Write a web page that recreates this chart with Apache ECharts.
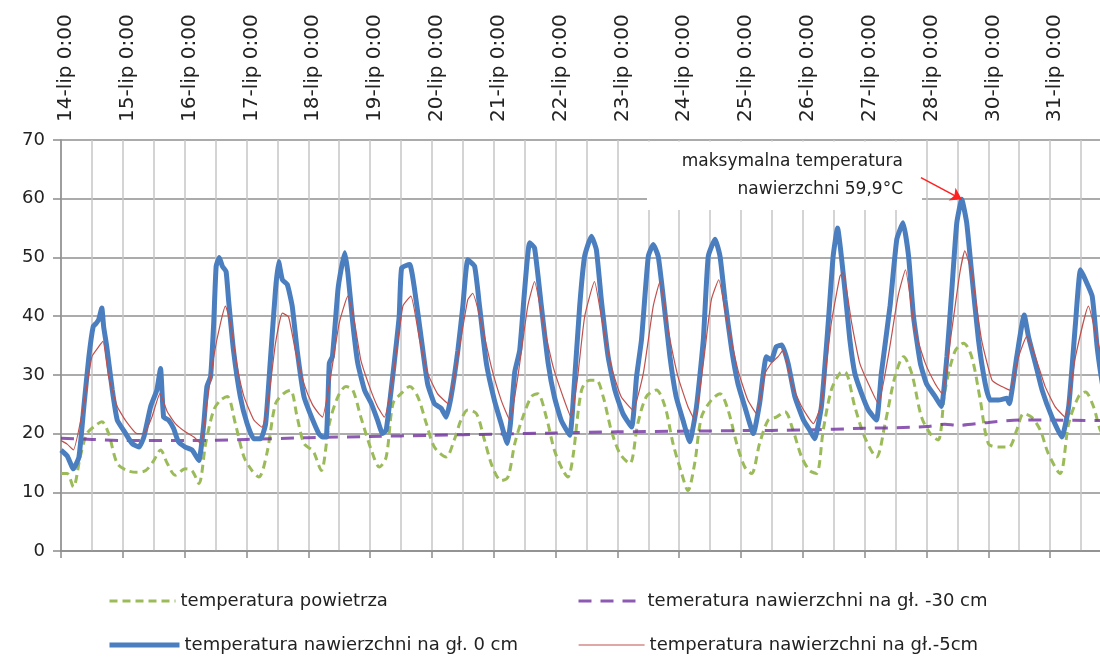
<!DOCTYPE html>
<html>
<head>
<meta charset="utf-8">
<script src="https://cdn.jsdelivr.net/npm/echarts@6/dist/echarts.min.js"></script>
<style>
html,body{margin:0;padding:0;background:#fff;}
#chart{width:1100px;height:657px;}
</style>
</head>
<body>
<div id="chart"></div>
<script>
// ---- tick labels (one per day, as printed on the original) ----
const dayLabels = ['14-lip 0:00','15-lip 0:00','16-lip 0:00','17-lip 0:00','18-lip 0:00','19-lip 0:00',
  '20-lip 0:00','21-lip 0:00','22-lip 0:00','23-lip 0:00','24-lip 0:00','25-lip 0:00','26-lip 0:00',
  '27-lip 0:00','28-lip 0:00','30-lip 0:00','31-lip 0:00'];

const seriesNames = ['temperatura powietrza','temeratura nawierzchni na gł. -30 cm',
  'temperatura nawierzchni na gł. 0 cm','temperatura nawierzchni na gł.-5cm'];

// ---- series values: [day offset from 14-lip 0:00, °C] ----
const airTemp = [[0,13.2],[0.1,13.2],[0.2,10.9],[0.31,16],[0.42,20],[0.56,21.4],[0.66,22],[0.77,20],[0.91,14.9],[1.07,13.7],[1.23,13.4],[1.37,13.7],[1.5,15.4],[1.61,17.2],[1.72,14.9],[1.85,12.9],[2.01,14],[2.12,13.7],[2.23,11.5],[2.34,18.3],[2.47,24],[2.58,25.7],[2.69,26.3],[2.82,21.7],[2.96,16],[3.09,13.7],[3.2,12.6],[3.33,16.6],[3.47,25.1],[3.6,26.8],[3.71,27.4],[3.82,22.8],[3.93,18.3],[4.06,17.2],[4.1,16.6],[4.21,13.7],[4.34,21.7],[4.48,26.3],[4.61,28],[4.72,27.4],[4.85,22.8],[5.02,17.2],[5.15,14.3],[5.26,16],[5.37,25.1],[5.5,26.8],[5.64,28],[5.77,26.3],[5.91,21.7],[6.04,17.7],[6.23,16],[6.36,18.9],[6.47,22.3],[6.58,24],[6.72,23.4],[6.85,18.9],[6.98,14.3],[7.12,12],[7.23,12.6],[7.34,18.3],[7.47,22.8],[7.61,26.3],[7.71,26.8],[7.85,22.8],[7.98,17.2],[8.12,13.7],[8.2,12.6],[8.28,16],[8.42,27.4],[8.55,29.1],[8.66,29.1],[8.77,26.3],[8.9,20.6],[9.04,16.6],[9.2,14.9],[9.33,21.7],[9.47,26.3],[9.63,27.4],[9.77,24.6],[9.9,18.3],[10.04,13.2],[10.14,10.3],[10.25,14.9],[10.36,22.8],[10.52,25.7],[10.66,26.8],[10.79,24],[10.93,18.3],[11.06,14.3],[11.17,13.2],[11.3,18.3],[11.44,22.3],[11.57,22.8],[11.71,23.7],[11.84,20.6],[11.98,16],[12.11,13.7],[12.22,13.2],[12.33,20.6],[12.46,27.4],[12.6,30.3],[12.68,30.5],[12.84,24.6],[13,19.4],[13.19,16],[13.33,21.7],[13.49,29.7],[13.63,33.1],[13.76,30.3],[13.92,22.8],[14.08,19.7],[14.19,18.9],[14.3,27.4],[14.46,34],[14.6,35.4],[14.73,33.1],[14.87,25.7],[15,18.3],[15.16,17.7],[15.33,17.7],[15.46,20.6],[15.57,23.4],[15.7,22.8],[15.84,20.6],[15.97,16.6],[16.16,13.2],[16.3,21.7],[16.46,26.3],[16.57,27.1],[16.7,24.6],[16.81,20.6],[16.9,19]];

const depth30 = [[0,19.2],[0.5,19],[1,18.8],[2,18.8],[3,19],[4,19.3],[5,19.5],[6,19.7],[7,19.9],[8,20.1],[9,20.3],[10,20.4],[11,20.5],[12,20.6],[13,20.9],[13.5,21],[14,21.2],[14.3,21.6],[14.5,21.4],[15,21.9],[15.5,22.3],[16,22.3],[16.9,22.2]];

const depth0 = [[0,17.2],[0.1,16.2],[0.2,14],[0.29,16],[0.37,24.6],[0.45,33],[0.52,38.2],[0.57,38.8],[0.61,39.4],[0.66,41.4],[0.69,38.2],[0.74,34.8],[0.83,27.4],[0.91,22.3],[1.01,20.6],[1.15,18.3],[1.26,17.7],[1.34,19.4],[1.45,24.6],[1.55,27.4],[1.61,31.1],[1.66,22.8],[1.74,22.3],[1.82,20.9],[1.9,18.6],[2.01,17.7],[2.12,17.2],[2.23,15.4],[2.31,21.7],[2.36,28],[2.42,29.7],[2.47,38.8],[2.51,48.5],[2.56,50],[2.61,48.5],[2.67,47.6],[2.71,42.8],[2.79,34.2],[2.9,26.3],[3.01,21.7],[3.12,19.1],[3.23,19.1],[3.31,21.7],[3.39,33],[3.47,44.5],[3.52,49.3],[3.58,46.2],[3.66,45.4],[3.74,41.7],[3.82,34.2],[3.93,26.3],[4.03,23.4],[4.17,20],[4.23,19.4],[4.29,19.4],[4.34,32],[4.39,33.1],[4.48,44.5],[4.53,47.9],[4.59,50.8],[4.64,47.4],[4.72,38.8],[4.8,32],[4.91,27.4],[5.02,25.1],[5.12,22.3],[5.2,20],[5.26,20.6],[5.34,27.4],[5.39,32],[5.47,39.9],[5.51,48.2],[5.64,48.8],[5.72,44.5],[5.83,36],[5.93,28.5],[6.04,25.1],[6.15,24.3],[6.23,22.8],[6.31,26.3],[6.42,34.2],[6.5,41.7],[6.58,49.6],[6.69,48.5],[6.77,41.7],[6.88,32],[7.01,25.7],[7.12,21.7],[7.22,18.3],[7.27,21.7],[7.34,30.5],[7.42,34.2],[7.5,44.5],[7.58,52.5],[7.66,51.6],[7.77,41.7],[7.88,32],[7.98,26.3],[8.09,22.3],[8.23,19.7],[8.3,28],[8.39,41.7],[8.47,50.2],[8.58,53.6],[8.66,51.3],[8.74,42.8],[8.85,33.1],[8.96,27.4],[9.09,23.4],[9.23,21.1],[9.31,29.7],[9.39,36],[9.5,50.2],[9.58,52.2],[9.66,50.2],[9.74,43.4],[9.85,33.1],[9.95,26.3],[10.06,22.3],[10.17,18.6],[10.28,24.6],[10.39,36],[10.47,50.2],[10.58,53.1],[10.66,50.2],[10.74,42.8],[10.85,34.2],[10.95,28.5],[11.06,24.6],[11.2,20],[11.3,25.1],[11.41,33.1],[11.49,32.5],[11.57,34.8],[11.66,35.1],[11.76,32],[11.87,26.3],[12.01,22.3],[12.11,20.6],[12.19,19.1],[12.3,24.6],[12.41,38.8],[12.49,50.2],[12.56,55],[12.68,44.5],[12.76,36],[12.84,30.3],[12.95,26.8],[13.06,24],[13.19,22.3],[13.27,30.3],[13.41,41.7],[13.52,53.1],[13.62,55.9],[13.71,50.2],[13.79,39.9],[13.9,32],[14,28.5],[14.14,26.3],[14.24,24.6],[14.33,33.1],[14.41,44.5],[14.49,55.9],[14.57,59.9],[14.65,55.9],[14.73,47.4],[14.84,36],[14.95,28.5],[15.03,25.7],[15.16,25.7],[15.3,26],[15.34,25.1],[15.46,33.1],[15.58,40.2],[15.65,36.5],[15.76,32],[15.87,27.4],[16.03,22.8],[16.19,19.4],[16.3,24.6],[16.41,38.8],[16.49,47.9],[16.57,46.2],[16.68,43.4],[16.76,34.8],[16.81,30.8],[16.86,27.5]];

const depth5 = [[0,18.8],[0.1,18.2],[0.2,17.2],[0.37,25.1],[0.5,33.1],[0.61,34.8],[0.68,35.7],[0.77,29.7],[0.91,24.6],[1.04,22.3],[1.23,20],[1.34,20],[1.47,22.8],[1.6,26.8],[1.72,23.7],[1.85,21.7],[2.01,20.3],[2.15,19.4],[2.26,18.3],[2.36,25.1],[2.47,33.1],[2.58,38.8],[2.66,41.7],[2.74,38.8],[2.85,31.4],[2.96,26.3],[3.12,22.3],[3.25,21.1],[3.36,26.3],[3.47,35.4],[3.58,40.5],[3.68,39.9],[3.79,34.2],[3.93,28.5],[4.06,25.1],[4.17,23.4],[4.23,22.8],[4.37,30.3],[4.5,38.8],[4.64,43.4],[4.75,38.8],[4.85,32.5],[4.99,28],[5.12,24.6],[5.23,22.8],[5.37,29.7],[5.53,41.7],[5.66,43.4],[5.8,36],[5.93,30.3],[6.09,26.8],[6.26,25.1],[6.42,33.1],[6.58,42.8],[6.66,43.9],[6.8,38.8],[6.96,31.4],[7.12,25.7],[7.26,22.3],[7.39,29.7],[7.55,41.7],[7.66,45.9],[7.8,38.8],[7.96,31.4],[8.12,26.3],[8.25,22.8],[8.35,29],[8.47,39.9],[8.63,45.9],[8.74,39.9],[8.9,31.4],[9.06,26.3],[9.25,24],[9.42,30.3],[9.58,41.7],[9.69,45.9],[9.82,37.7],[9.98,29.7],[10.14,24.6],[10.25,22.3],[10.39,32],[10.52,42.8],[10.64,46.2],[10.76,39.9],[10.95,30.8],[11.11,25.7],[11.25,23.4],[11.39,30.3],[11.49,32],[11.6,33.1],[11.68,34.2],[11.82,28.5],[11.98,24.6],[12.17,21.7],[12.3,25.1],[12.46,38.8],[12.6,46.8],[12.65,47.4],[12.79,38.8],[12.92,32],[13.06,28.5],[13.22,25.1],[13.38,33.1],[13.54,43.4],[13.66,47.9],[13.81,37.7],[13.98,32],[14.14,28.5],[14.25,26.8],[14.41,37.7],[14.54,47.4],[14.62,51.1],[14.73,47.4],[14.89,36],[15.06,29.1],[15.22,28],[15.35,27.4],[15.49,33.1],[15.62,36.5],[15.76,33.1],[15.92,28],[16.08,24.6],[16.24,22.8],[16.41,33.1],[16.62,41.7],[16.76,36],[16.86,32]];

// annotated maximum (surface, 0 cm)
const maxPoint = [14.57, 59.9];
const arrowStart = [13.91, 63.6];
const annotationLines = ['maksymalna temperatura', 'nawierzchni 59,9°C'];

const FONT = 'DejaVu Sans';
const chart = echarts.init(document.getElementById('chart'), null, {renderer: 'canvas'});

function legendAt(name, left, top, itemWidth, lineWidth) {
  return {
    data: [name], left: left, top: top, padding: 0, itemWidth: itemWidth, itemHeight: 14,
    selectedMode: false, orient: 'horizontal',
    itemStyle: {opacity: 0, borderWidth: 0},
    lineStyle: {width: lineWidth},
    textStyle: {fontFamily: FONT, fontSize: 18, color: '#222'}
  };
}

const option = {
  backgroundColor: '#fff',
  animation: false,
  grid: {left: 61, right: -20, top: 140, bottom: 106, containLabel: false, outerBoundsMode: 'none'},
  legend: [
    legendAt(seriesNames[0], 108, 592, 66, 3),
    legendAt(seriesNames[1], 577, 592, 64, 3),
    legendAt(seriesNames[2], 107, 636, 70, 5),
    legendAt(seriesNames[3], 578, 636, 66, 1.2)
  ],
  xAxis: [
    {
      type: 'value', position: 'top', min: 0, max: 17.13, interval: 0.5,
      axisLine: {show: false}, axisTick: {show: false},
      splitLine: {show: true, lineStyle: {color: '#c6c6c6', width: 1.5}},
      axisLabel: {
        rotate: 90, margin: 18, fontFamily: FONT, fontSize: 20, color: '#222',
        showMaxLabel: false, interval: 0, verticalAlign: 'top', lineHeight: 10,
        formatter: function (v) {
          const r = Math.round(v);
          return (Math.abs(v - r) < 1e-6 && r < dayLabels.length) ? dayLabels[r] : '';
        }
      }
    },
    {
      type: 'value', position: 'bottom', min: 0, max: 17.13, interval: 1,
      axisLine: {show: true, lineStyle: {color: '#8c8c8c', width: 1.5}},
      axisTick: {show: true, length: 7, lineStyle: {color: '#8c8c8c', width: 1.5}},
      axisLabel: {show: false}, splitLine: {show: false}
    }
  ],
  yAxis: {
    type: 'value', min: 0, max: 70, interval: 10,
    axisLine: {show: true, lineStyle: {color: '#8c8c8c', width: 1.5}},
    axisTick: {show: true, length: 8, lineStyle: {color: '#8c8c8c', width: 1.5}},
    splitLine: {show: true, lineStyle: {color: '#8f8f8f', width: 1.5}},
    axisLabel: {margin: 16, fontFamily: FONT, fontSize: 18, color: '#222'}
  },
  series: [
    {name: seriesNames[0], type: 'line', data: airTemp, symbol: 'none', smooth: 0.3,
     lineStyle: {color: '#9BBB59', width: 3, type: [8, 5]}, itemStyle: {color: '#9BBB59'}},
    {name: seriesNames[1], type: 'line', data: depth30, symbol: 'none', smooth: 0.3,
     lineStyle: {color: '#7030A0', width: 3, type: [13, 9], opacity: 0.8}, itemStyle: {color: '#7F5FA8'}},
    {name: seriesNames[2], type: 'line', data: depth0, symbol: 'none', smooth: 0.15,
     lineStyle: {color: '#4A7EBF', width: 5}, itemStyle: {color: '#4A7EBF'},
     markLine: {
       silent: true, animation: false, symbol: ['none', 'arrow'], symbolSize: 11,
       label: {show: false},
       lineStyle: {color: '#ff2020', width: 1.5, type: 'solid'},
       data: [[{coord: arrowStart}, {coord: maxPoint}]]
     }},
    {name: seriesNames[3], type: 'line', data: depth5, symbol: 'none', smooth: 0.15,
     lineStyle: {color: '#C0504D', width: 1.2}, itemStyle: {color: '#C0504D'}}
  ],
  graphic: [
    {type: 'rect', z: 1, silent: true, shape: {x: 647, y: 141.5, width: 275, height: 68.5}, style: {fill: '#fff'}},
    {type: 'text', z: 3, silent: true, style: {text: annotationLines[0], x: 903, y: 162, align: 'right', verticalAlign: 'middle', font: '17px "DejaVu Sans"', fill: '#222'}},
    {type: 'text', z: 3, silent: true, style: {text: annotationLines[1], x: 903, y: 190, align: 'right', verticalAlign: 'middle', font: '17px "DejaVu Sans"', fill: '#222'}}
  ]
};
chart.setOption(option);
</script>
</body>
</html>
